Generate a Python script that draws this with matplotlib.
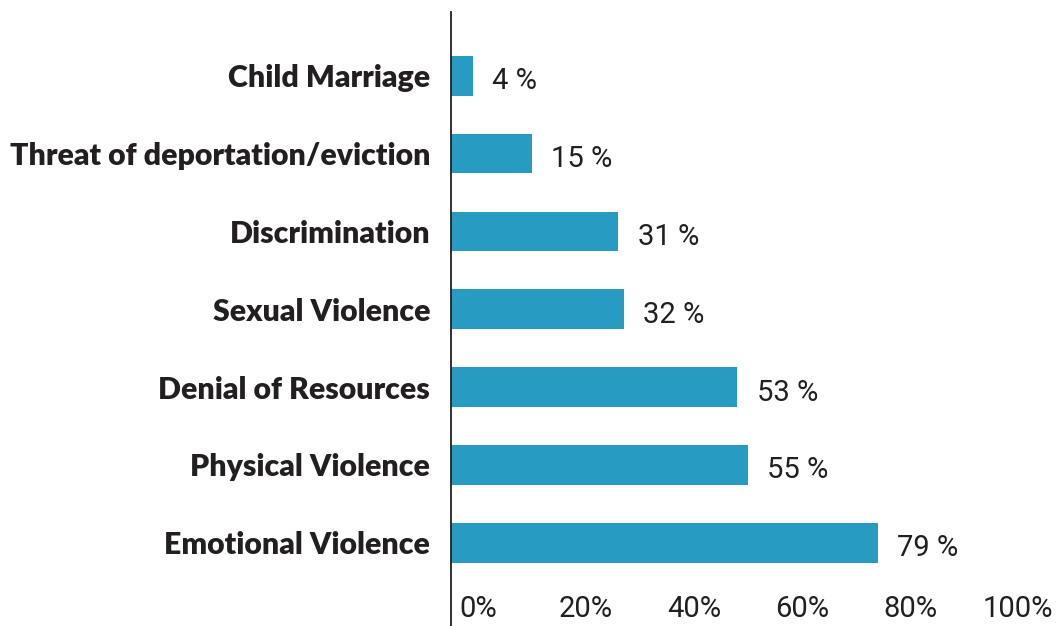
import matplotlib
matplotlib.use("Agg")
import matplotlib.pyplot as plt
import matplotlib.transforms as mtransforms

categories = ['Child Marriage', 'Threat of deportation/eviction', 'Discrimination',
              'Sexual Violence', 'Denial of Resources', 'Physical Violence',
              'Emotional Violence']
values = [4, 15, 31, 32, 53, 55, 79]
tick_values = [0, 20, 40, 60, 80, 100]
tick_labels = ['0%', '20%', '40%', '60%', '80%', '100%']

bar_color = '#289bc3'
text_color = '#231f20'
narrow = ['Roboto', 'DejaVu Sans']

fig = plt.figure(figsize=(10.58, 6.26), dpi=100)
# axes spans from the axis line (x=451px) to the right edge, full height below 12px
ax = fig.add_axes([451 / 1058, 0, 1 - 451 / 1058, (626 - 12) / 626])

pos = list(range(len(categories)))
ax.barh(pos, values, height=0.51, color=bar_color)

ax.set_xlim(0, 112.4)
ax.set_ylim(7.07, -0.82)

for spine in ['top', 'right', 'bottom']:
    ax.spines[spine].set_visible(False)
ax.spines['left'].set_linewidth(1.3)
ax.spines['left'].set_color(text_color)

ax.set_yticks(pos)
ax.set_yticklabels(categories, fontfamily='Lato', fontweight='heavy',
                   fontsize=21.8, color=text_color)
ax.tick_params(axis='y', length=0, pad=15)

ax.set_xticks(tick_values)
ax.set_xticklabels(tick_labels, fontfamily=narrow, fontsize=21, color=text_color)
ax.tick_params(axis='x', length=0, pad=-22)
# labels sit a bit right of their ticks in the original
shift = mtransforms.ScaledTranslation(27 / 100, 0, fig.dpi_scale_trans)
for lab in ax.get_xticklabels():
    lab.set_transform(lab.get_transform() + shift)

for p, v in zip(pos, values):
    ax.annotate(f'{v} %', xy=(v, p), xytext=(14, -4), textcoords='offset points',
                ha='left', va='center', fontfamily=narrow, fontsize=21,
                color=text_color)

fig.savefig('out.png', dpi=100)
